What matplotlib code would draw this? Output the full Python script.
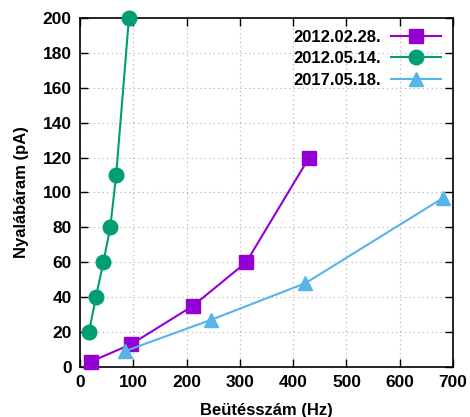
import matplotlib
matplotlib.use("Agg")
import matplotlib.pyplot as plt

plt.rcParams['font.family'] = ['Liberation Sans', 'DejaVu Sans']
plt.rcParams['font.weight'] = 'bold'

# data
labels = ['2012.02.28.', '2012.05.14.', '2017.05.18.']
x_0228 = [20, 96, 212, 312, 430]
y_0228 = [3, 13, 35, 60, 120]
x_0514 = [17, 30, 44, 57, 68, 92]
y_0514 = [20, 40, 60, 80, 110, 200]
x_0518 = [84, 246, 423, 682]
y_0518 = [9, 27, 48, 97]

fig = plt.figure(figsize=(4.7, 4.17), dpi=100)
ax = fig.add_axes([0.170, 0.120, 0.794, 0.837])

ax.plot(x_0228, y_0228, color='#9400d3', lw=1.5, marker='s', ms=10.5, label=labels[0], clip_on=False, zorder=3)
ax.plot(x_0514, y_0514, color='#009e73', lw=1.5, marker='o', ms=10.5, label=labels[1], clip_on=False, zorder=3)
ax.plot(x_0518, y_0518, color='#56b4e9', lw=1.5, marker='^', ms=10.5, label=labels[2], clip_on=False, zorder=3)

ax.set_xlim(0, 700)
ax.set_ylim(0, 200)
ax.set_xticks(range(0, 701, 100))
ax.set_yticks(range(0, 201, 20))
ax.grid(True, color='#b0b0b0', linestyle=(0, (1, 3)), lw=0.8)
ax.tick_params(direction='in', top=True, right=True, length=6, width=1, labelsize=12.5, pad=6)
for s in ax.spines.values():
    s.set_linewidth(1.2)

ax.set_xlabel('Beütésszám (Hz)', fontsize=12, fontweight='bold', labelpad=9)
ax.set_ylabel('Nyalábáram (pA)', fontsize=12, fontweight='bold', labelpad=10)

ax.legend(loc='upper right', frameon=False, markerfirst=False, fontsize=12,
          handlelength=3, borderaxespad=0.3, labelspacing=0.4, handletextpad=0.6)

fig.savefig('out.png', dpi=100)
